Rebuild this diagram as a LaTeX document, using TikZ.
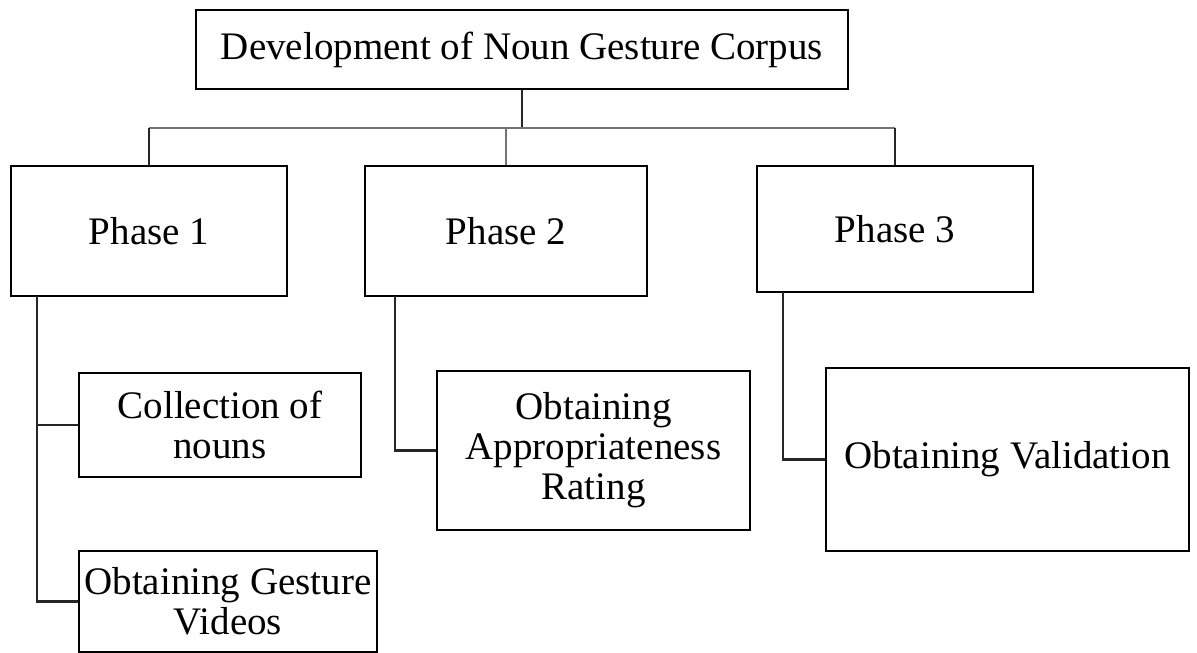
\documentclass[tikz,border=0pt]{standalone}
\usepackage{fontspec}
\setmainfont{Liberation Serif}
\begin{document}
\begin{tikzpicture}[x=1pt,y=-1pt,
  box/.style={draw, line width=2.4pt, inner sep=0pt, align=center,
    font=\fontsize{39}{40}\selectfont},
  conn/.style={line width=2.4pt, black!85},
  bus/.style={line width=2.8pt, black!55}]
\useasboundingbox (0,0) rectangle (1197,653);
\node[box, minimum width=652pt, minimum height=79pt] (top) at (522,49.5) {Development of Noun Gesture Corpus};
\node[box, minimum width=276pt, minimum height=130pt] (p1) at (149,231) {Phase 1};
\node[box, minimum width=282pt, minimum height=130pt] (p2) at (506,231) {Phase 2};
\node[box, minimum width=276pt, minimum height=126pt] (p3) at (895,229) {Phase 3};
\node[box, minimum width=282pt, minimum height=104pt] (c1) at (220,425) {Collection of\\nouns};
\node[box, minimum width=298pt, minimum height=101pt] (c2) at (228,601.5) {Obtaining Gesture\\Videos};
\node[box, minimum width=313pt, minimum height=159pt] (a2) at (593.5,450.5) {Obtaining\\Appropriateness\\Rating};
\node[box, minimum width=363pt, minimum height=183pt] (v3) at (1007.5,459.5) {Obtaining Validation};
\coordinate (b1) at (149,128);
\coordinate (b3) at (895,128);
\coordinate (l1) at (37,296);
\coordinate (l2) at (395,296);
\coordinate (l3) at (783,292);
\draw[conn] (top.south) -- (top.south |- b1);
\draw[bus] (b1) -- (b3);
\draw[conn] (b1) -- (p1.north);
\draw[bus] (p2.north |- b1) -- (p2.north);
\draw[conn] (b3) -- (p3.north);
\draw[conn] (l1) |- (c2.west);
\draw[conn] (l1 |- c1.west) -- (c1.west);
\draw[conn] (l2) |- (a2.west);
\draw[conn] (l3) |- (v3.west);
\end{tikzpicture}
\end{document}
